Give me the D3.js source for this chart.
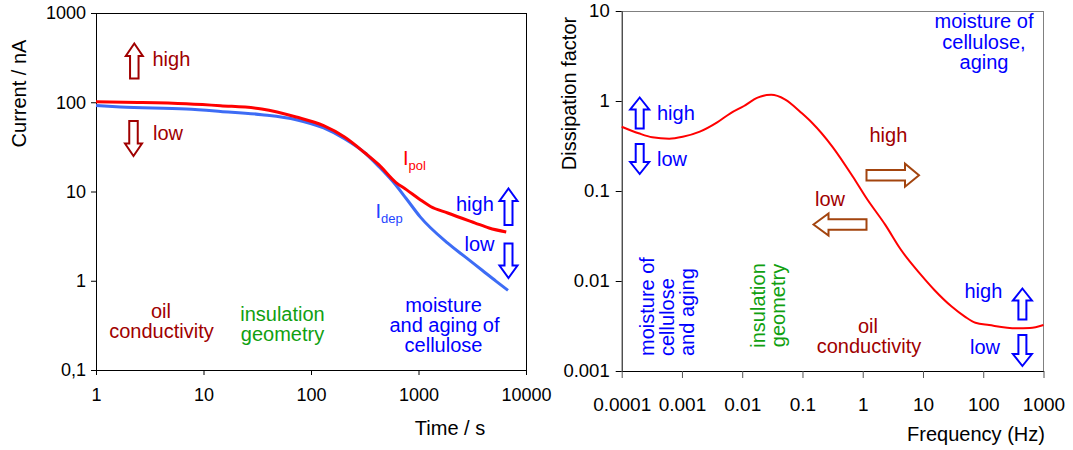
<!DOCTYPE html>
<html>
<head>
<meta charset="utf-8">
<script src="https://cdn.jsdelivr.net/npm/d3@7"></script>
<style>
  html, body { margin: 0; padding: 0; background: #fff; }
  svg { display: block; font-family: "Liberation Sans", Arial, sans-serif; }
</style>
</head>
<body>
<svg id="chart" width="1073" height="450"></svg>
<script>
// ---------- DATA ----------
// Left chart: polarisation / depolarisation currents (PDC)
const timePol = [1, 2.45, 6.9, 14.4, 34.8, 72.8, 131, 205, 318, 427, 618, 771, 1037, 1294, 1870, 3375, 4530, 6550];
const currentPol = [101, 99.6, 96.3, 91.5, 84, 68.3, 54.6, 40.8, 27, 20, 12.6, 10.5, 8.1, 6.8, 5.74, 4.43, 3.9, 3.52];
const timeDep = [1, 1.69, 6.9, 14.4, 34.8, 72.8, 131, 205, 318, 427, 575, 771, 1037, 1870, 2700, 3910, 5250, 6800];
const currentDep = [92, 88.5, 84, 79, 72.6, 63.8, 51.5, 39, 27, 19.1, 13, 8.3, 5.2, 2.64, 1.86, 1.31, 0.99, 0.78];
const timeTicks = [1, 10, 100, 1000, 10000];
const timeTickLabels = ["1", "10", "100", "1000", "10000"];
const currentTicks = [0.1, 1, 10, 100, 1000];
const currentTickLabels = ["0,1", "1", "10", "100", "1000"];

// Right chart: dissipation factor vs frequency (FDS)
const freqHz = [1e-4, 1.91e-4, 3.21e-4, 6.15e-4, 1.03e-3, 1.98e-3, 3.78e-3, 6.37e-3, 0.0107, 0.018, 0.0303, 0.051, 0.098, 0.144, 0.315, 0.687, 1.156, 2.37, 4.25, 9.27, 15.6, 29.9, 50.2, 74.2, 125, 353, 594, 1000];
const dissipation = [0.518, 0.438, 0.395, 0.381, 0.40, 0.456, 0.574, 0.73, 0.88, 1.09, 1.17, 1.045, 0.73, 0.574, 0.31, 0.144, 0.083, 0.042, 0.0225, 0.0117, 0.0079, 0.0052, 0.004, 0.00344, 0.00324, 0.00298, 0.003, 0.00324];
const freqTicks = [1e-4, 1e-3, 1e-2, 0.1, 1, 10, 100, 1000];
const freqTickLabels = ["0.0001", "0.001", "0.01", "0.1", "1", "10", "100", "1000"];
const dfTicks = [0.001, 0.01, 0.1, 1, 10];
const dfTickLabels = ["0.001", "0.01", "0.1", "1", "10"];

// ---------- COLOURS ----------
const DARKRED = "#a00000", BLUE = "#0000ff", GREEN = "#10a010", BROWN = "#a3440e";
const LINE_RED = "#ff0000", LINE_BLUE = "#3d6cf5";

const svg = d3.select("#chart");

// ---------- helpers ----------
function vArrow(g, cx, yTop, yBot, dir, color, w = 17, sw = 8.5, hh = 12.5) {
  let pts;
  if (dir === "up") {
    pts = [[cx, yTop], [cx + w / 2, yTop + hh], [cx + sw / 2, yTop + hh], [cx + sw / 2, yBot],
           [cx - sw / 2, yBot], [cx - sw / 2, yTop + hh], [cx - w / 2, yTop + hh]];
  } else {
    pts = [[cx, yBot], [cx + w / 2, yBot - hh], [cx + sw / 2, yBot - hh], [cx + sw / 2, yTop],
           [cx - sw / 2, yTop], [cx - sw / 2, yBot - hh], [cx - w / 2, yBot - hh]];
  }
  g.append("path").attr("d", "M" + pts.map(p => p.join(",")).join("L") + "Z")
    .attr("fill", "#fff").attr("stroke", color).attr("stroke-width", 2).attr("stroke-linejoin", "miter");
}
function hArrow(g, xL, xR, cy, dir, color, h = 23, sh = 10.5, hl = 14) {
  let pts;
  if (dir === "right") {
    pts = [[xR, cy], [xR - hl, cy - h / 2], [xR - hl, cy - sh / 2], [xL, cy - sh / 2],
           [xL, cy + sh / 2], [xR - hl, cy + sh / 2], [xR - hl, cy + h / 2]];
  } else {
    pts = [[xL, cy], [xL + hl, cy - h / 2], [xL + hl, cy - sh / 2], [xR, cy - sh / 2],
           [xR, cy + sh / 2], [xL + hl, cy + sh / 2], [xL + hl, cy + h / 2]];
  }
  g.append("path").attr("d", "M" + pts.map(p => p.join(",")).join("L") + "Z")
    .attr("fill", "#fff").attr("stroke", color).attr("stroke-width", 2);
}
function label(g, txt, x, y, color, anchor = "start", size = 20) {
  return g.append("text").attr("x", x).attr("y", y).attr("fill", color)
    .attr("text-anchor", anchor).attr("font-size", size).text(txt);
}
function styleAxis(sel, size) {
  sel.selectAll("path.domain").attr("stroke", "#000").attr("stroke-width", 1);
  sel.selectAll(".tick line").attr("stroke", "#000").attr("stroke-width", 1);
  sel.selectAll(".tick text").attr("fill", "#000").attr("font-size", size)
    .attr("font-family", '"Liberation Sans", Arial, sans-serif');
}

// ================= LEFT CHART =================
const xL = d3.scaleLog().domain([1, 10000]).range([96, 526]);
const yL = d3.scaleLog().domain([0.1, 1000]).range([370, 13]);
const gL = svg.append("g");

// frame (top & right)
gL.append("line").attr("x1", xL.range()[0]).attr("x2", xL.range()[1]).attr("y1", yL.range()[1] + 0.5).attr("y2", yL.range()[1] + 0.5)
  .attr("stroke", "#000").attr("stroke-width", 1);
gL.append("line").attr("x1", xL.range()[1] + 0.5).attr("x2", xL.range()[1] + 0.5).attr("y1", yL.range()[1]).attr("y2", yL.range()[0])
  .attr("stroke", "#000").attr("stroke-width", 1);

const axL_x = gL.append("g").attr("transform", `translate(0,${yL.range()[0]})`)
  .call(d3.axisBottom(xL).tickValues(timeTicks).tickFormat((d, i) => timeTickLabels[i]).tickSizeInner(5).tickSizeOuter(0).tickPadding(13));
styleAxis(axL_x, 18);
const axL_y = gL.append("g").attr("transform", `translate(${xL.range()[0]},0)`)
  .call(d3.axisLeft(yL).tickValues(currentTicks).tickFormat((d, i) => currentTickLabels[i]).tickSizeInner(5).tickSizeOuter(0).tickPadding(5));
styleAxis(axL_y, 18);

// curves
const lineDep = d3.line().x((d, i) => xL(timeDep[i])).y(d => yL(d)).curve(d3.curveMonotoneX);
const linePol = d3.line().x((d, i) => xL(timePol[i])).y(d => yL(d)).curve(d3.curveMonotoneX);
gL.append("path").attr("d", lineDep(currentDep)).attr("fill", "none").attr("stroke", LINE_BLUE).attr("stroke-width", 3);
gL.append("path").attr("d", linePol(currentPol)).attr("fill", "none").attr("stroke", LINE_RED).attr("stroke-width", 3);

// annotations left
vArrow(gL, 134.3, 43.5, 78.5, "up", DARKRED);
vArrow(gL, 133.5, 121, 156, "down", DARKRED);
label(gL, "high", 152.5, 65.5, DARKRED);
label(gL, "low", 153, 140, DARKRED);

const tPol = gL.append("text").attr("x", 403).attr("y", 165).attr("fill", LINE_RED).attr("font-size", 20);
tPol.append("tspan").text("I");
tPol.append("tspan").attr("font-size", 13).attr("dy", 5).text("pol");
const tDep = gL.append("text").attr("x", 375.5).attr("y", 218).attr("fill", "#1f45ff").attr("font-size", 20);
tDep.append("tspan").text("I");
tDep.append("tspan").attr("font-size", 13).attr("dy", 5).text("dep");

label(gL, "high", 456, 210.5, BLUE);
vArrow(gL, 508.5, 188.5, 225, "up", BLUE, 18, 8);
label(gL, "low", 464.5, 251, BLUE);
vArrow(gL, 508.5, 243.5, 278, "down", BLUE, 18, 8);

label(gL, "oil", 161, 317.5, DARKRED, "middle");
label(gL, "conductivity", 161.5, 337.5, DARKRED, "middle");
label(gL, "insulation", 282.5, 321, GREEN, "middle");
label(gL, "geometry", 282.5, 341, GREEN, "middle");
label(gL, "moisture", 443.5, 312, BLUE, "middle");
label(gL, "and aging of", 444.5, 332, BLUE, "middle");
label(gL, "cellulose", 443.5, 352, BLUE, "middle");

// axis titles
gL.append("text").attr("transform", "translate(25.5,93.5) rotate(-90)").attr("text-anchor", "middle")
  .attr("font-size", 20).attr("fill", "#000").text("Current / nA");
gL.append("text").attr("x", 450).attr("y", 435).attr("text-anchor", "middle")
  .attr("font-size", 20).attr("fill", "#000").text("Time / s");

// ================= RIGHT CHART =================
const xR = d3.scaleLog().domain([1e-4, 1000]).range([621.7, 1043.5]);
const yR = d3.scaleLog().domain([0.001, 10]).range([371, 11]);
const gR = svg.append("g");

gR.append("line").attr("x1", xR.range()[0]).attr("x2", xR.range()[1]).attr("y1", yR.range()[1] + 0.5).attr("y2", yR.range()[1] + 0.5)
  .attr("stroke", "#808080").attr("stroke-width", 1);
gR.append("line").attr("x1", xR.range()[1]).attr("x2", xR.range()[1]).attr("y1", yR.range()[1]).attr("y2", yR.range()[0])
  .attr("stroke", "#808080").attr("stroke-width", 1);

const axR_x = gR.append("g").attr("transform", `translate(0,${yR.range()[0]})`)
  .call(d3.axisBottom(xR).tickValues(freqTicks).tickFormat((d, i) => freqTickLabels[i]).tickSizeInner(7).tickSizeOuter(0).tickPadding(20));
styleAxis(axR_x, 19);
axR_x.selectAll(".tick line").attr("stroke", "#555");
const axR_y = gR.append("g").attr("transform", `translate(${xR.range()[0]},0)`)
  .call(d3.axisLeft(yR).tickValues(dfTicks).tickFormat((d, i) => dfTickLabels[i]).tickSizeInner(6).tickSizeOuter(0).tickPadding(6));
styleAxis(axR_y, 18.5);

const lineDF = d3.line().x((d, i) => xR(freqHz[i])).y(d => yR(d)).curve(d3.curveMonotoneX);
gR.append("path").attr("d", lineDF(dissipation)).attr("fill", "none").attr("stroke", LINE_RED).attr("stroke-width", 2);

// annotations right
label(gR, "moisture of", 984, 28, BLUE, "middle");
label(gR, "cellulose,", 984, 48.5, BLUE, "middle");
label(gR, "aging", 984, 69, BLUE, "middle");

vArrow(gR, 639.7, 97.5, 128.5, "up", BLUE, 19, 8, 12);
label(gR, "high", 657, 119.5, BLUE);
vArrow(gR, 639.7, 144, 174, "down", BLUE, 19, 8, 12);
label(gR, "low", 657, 166, BLUE);

label(gR, "high", 869.5, 141.5, DARKRED);
hArrow(gR, 866.5, 919, 175.2, "right", BROWN);
label(gR, "low", 815, 206, DARKRED);
hArrow(gR, 813.5, 866.5, 224.5, "left", BROWN, 22, 10.5, 15);

const rotBlue = ["moisture of", "cellulose", "and aging"];
const rotBlueX = [654, 674, 694];
rotBlue.forEach((t, i) => {
  gR.append("text").attr("transform", `translate(${rotBlueX[i]},356) rotate(-90)`).attr("text-anchor", "start")
    .attr("font-size", 20).attr("fill", BLUE).text(t);
});
const rotGreen = ["insulation", "geometry"];
const rotGreenX = [765, 785];
rotGreen.forEach((t, i) => {
  gR.append("text").attr("transform", `translate(${rotGreenX[i]},305.5) rotate(-90)`).attr("text-anchor", "middle")
    .attr("font-size", 20).attr("fill", GREEN).text(t);
});

label(gR, "oil", 868, 333, DARKRED, "middle");
label(gR, "conductivity", 869, 353, DARKRED, "middle");

label(gR, "high", 964.5, 297.5, BLUE);
vArrow(gR, 1022.4, 288.5, 319.5, "up", BLUE, 19, 8, 12);
label(gR, "low", 970, 353.5, BLUE);
vArrow(gR, 1022.4, 335, 366, "down", BLUE, 19, 8, 12);

gR.append("text").attr("transform", "translate(575.5,93.5) rotate(-90)").attr("text-anchor", "middle")
  .attr("font-size", 20).attr("fill", "#000").text("Dissipation factor");
gR.append("text").attr("x", 976).attr("y", 441).attr("text-anchor", "middle")
  .attr("font-size", 20).attr("fill", "#000").text("Frequency (Hz)");
</script>
</body>
</html>
